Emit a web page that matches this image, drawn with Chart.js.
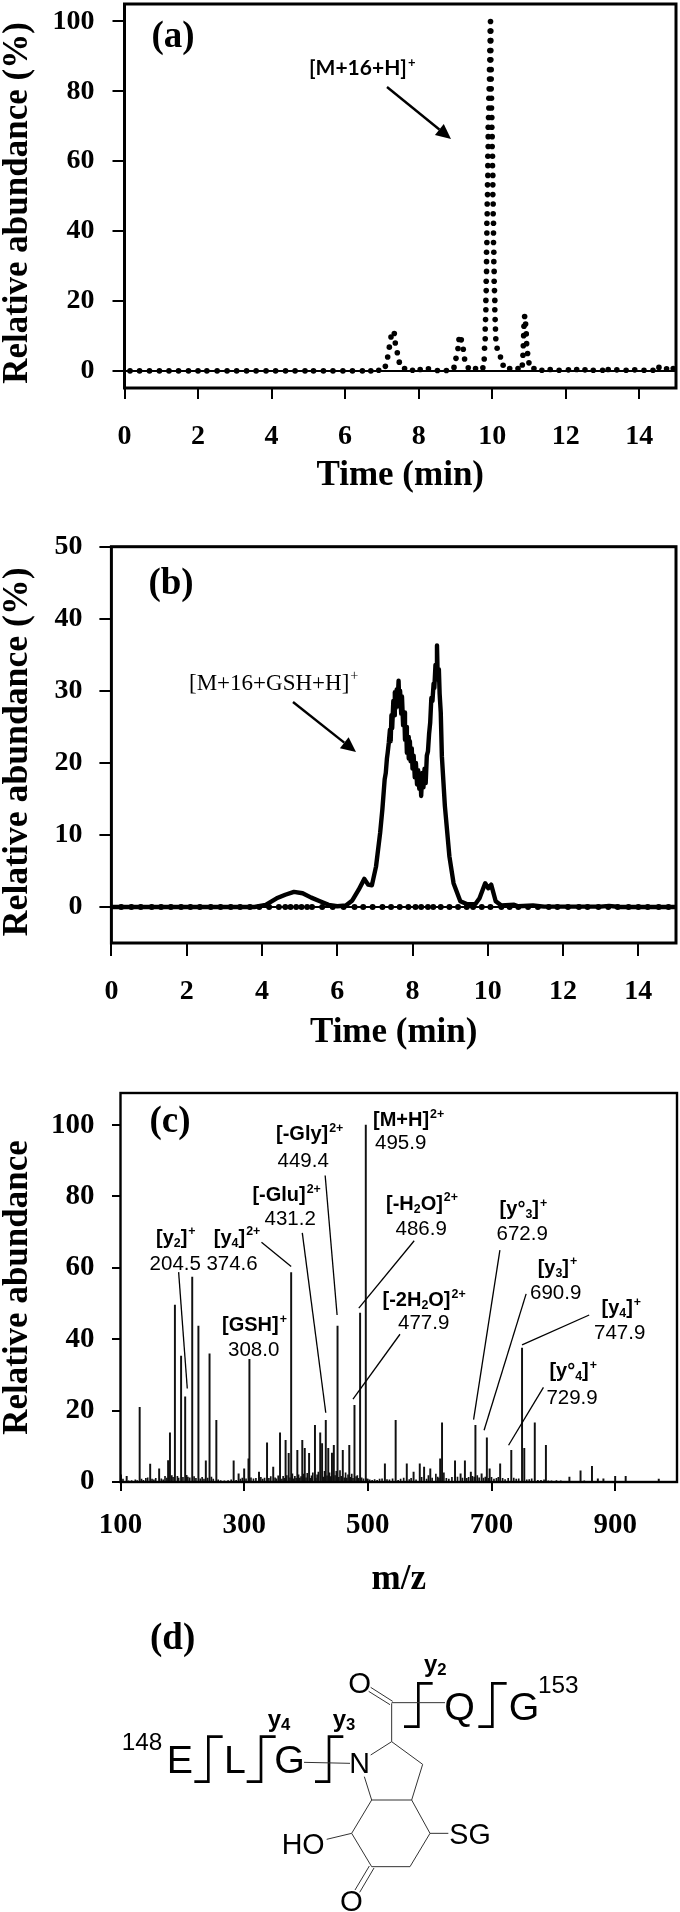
<!DOCTYPE html>
<html><head><meta charset="utf-8">
<script src="https://cdn.jsdelivr.net/npm/chart.js@4"></script>
<style>
html,body{margin:0;padding:0;background:#fff;overflow:hidden}
#page{position:relative;width:680px;height:1912px;background:#fff;overflow:hidden}
canvas{position:absolute;left:0}
svg{position:absolute;left:100px;top:1600px}
</style></head><body>
<div id="page">
<canvas id="ca" width="680" height="520" style="top:0;width:680px;height:520px"></canvas>
<canvas id="cb" width="680" height="530" style="top:530px;width:680px;height:530px"></canvas>
<canvas id="cc" width="680" height="530" style="top:1075px;width:680px;height:530px"></canvas>
<svg width="520" height="312" viewBox="0 0 1560 936" font-family="'Liberation Sans',Arial,sans-serif" fill="#000">
 <text x="150" y="148" font-family="'Liberation Serif',serif" font-weight="bold" font-size="111">(d)</text>
 <g fill="none" stroke="#000" stroke-width="8">
  <polyline points="368,410 325,410 325,545 283,545"/><polyline points="527,410 483,410 483,545 440,545"/>
  <polyline points="730,410 687,410 687,545 645,545"/><polyline points="998,250 955,250 955,380 912,380"/>
  <polyline points="1220,250 1177,250 1177,380 1135,380"/>
 </g>
 <g fill="none" stroke="#333" stroke-width="3">
  <line x1="612" y1="487" x2="750" y2="490"/><line x1="812" y1="465" x2="875" y2="425"/>
  <line x1="875" y1="425" x2="968" y2="493"/><line x1="968" y1="493" x2="935" y2="600"/>
  <line x1="935" y1="600" x2="815" y2="600"/><line x1="815" y1="600" x2="793" y2="530"/>
  <line x1="875" y1="425" x2="875" y2="310"/><line x1="875" y1="308" x2="1035" y2="308"/>
  <line x1="878" y1="304" x2="812" y2="262"/><line x1="870" y1="314" x2="806" y2="274"/>
  <line x1="815" y1="600" x2="755" y2="700"/><line x1="935" y1="600" x2="990" y2="700"/>
  <line x1="990" y1="700" x2="1045" y2="700"/><line x1="755" y1="700" x2="680" y2="718"/>
  <line x1="755" y1="700" x2="815" y2="800"/><line x1="815" y1="800" x2="930" y2="800"/>
  <line x1="930" y1="800" x2="990" y2="700"/><line x1="822" y1="804" x2="779" y2="877"/>
  <line x1="808" y1="798" x2="765" y2="870"/>
 </g>
 <text x="65" y="450" font-size="73">148</text><text x="200" y="520" font-size="118">E</text>
 <text x="372" y="520" font-size="118">L</text><text x="523" y="520" font-size="118">G</text>
 <text x="748" y="520" font-size="86">N</text><text x="1033" y="360" font-size="118">Q</text>
 <text x="1226" y="360" font-size="118">G</text><text x="1314" y="280" font-size="73">153</text>
 <text x="745" y="278" font-size="88">O</text><text x="720" y="934" font-size="88">O</text>
 <text x="545" y="762" font-size="86">HO</text><text x="1048" y="732" font-size="86">SG</text>
 <text x="972" y="215" font-size="72" font-weight="bold">y<tspan font-size="50" dy="10">2</tspan></text>
 <text x="503" y="380" font-size="72" font-weight="bold">y<tspan font-size="50" dy="10">4</tspan></text>
 <text x="698" y="380" font-size="72" font-weight="bold">y<tspan font-size="50" dy="10">3</tspan></text>
</svg>
</div>
<script>
// ---------- Panel (a): [M+16+H]+ chromatogram (dots) ----------
const timeA = [0.15,0.41,0.68,0.95,1.21,1.47,1.74,2.0,2.24,2.52,2.79,3.05,3.32,3.58,3.85,4.11,4.38,4.64,4.91,5.14,5.41,5.67,5.94,6.2,6.47,6.7,6.915,
 7.095,7.158,7.203,7.248,7.338,7.365,7.42,7.474,7.618,7.834,8.042,8.267,8.511,8.755,8.962,9.016,9.07,9.097,9.16,9.214,9.25,9.35,9.548,9.747,
 9.784,9.793,9.811,9.811,9.82,9.829,9.829,9.838,9.838,9.847,9.847,9.847,9.856,9.856,9.856,9.865,9.865,9.874,9.874,9.883,9.883,9.883,9.892,9.892,9.892,9.901,9.91,9.91,9.919,9.928,9.928,9.937,9.937,9.946,9.946,9.955,
 9.964,9.964,9.964,9.964,9.973,9.973,9.973,9.982,9.982,9.991,9.991,10.0,10.0,10.009,10.009,10.018,10.018,10.018,10.027,10.027,10.036,10.036,10.036,10.045,10.045,10.054,10.054,10.063,10.072,10.072,10.081,10.09,10.099,10.135,10.226,10.298,
 10.477,10.703,10.82,10.838,10.847,10.856,10.865,10.883,10.91,10.928,10.937,10.964,11.0,11.136,
 11.352,11.578,11.821,12.074,12.299,12.525,12.75,13.003,13.156,13.391,13.643,13.878,14.13,14.374,14.536,14.744,14.924];
const abundA = [-0.1,-0.1,-0.1,-0.1,-0.1,-0.1,-0.1,-0.1,-0.1,-0.1,-0.1,-0.1,-0.1,-0.1,-0.1,-0.1,-0.1,-0.1,-0.1,-0.1,-0.1,-0.1,-0.1,-0.1,-0.1,-0.1,0.1,
 1.2,3.9,6.7,9.6,10.6,7.9,5.1,2.4,0.6,0.1,0.3,0.5,0,0,0.9,3.5,6.3,8.9,8.8,6.1,3.3,0.8,0.6,0.8,
 3.3,6.4,9.1,11.9,14.6,17.4,20.1,22.9,25.6,28.4,31.2,33.9,36.7,39.4,42.2,44.9,47.7,50.4,53.2,55.9,58.7,61.4,64.2,67,69.7,72.5,75.2,78,80.7,83.5,86.2,89,91.7,94.5,97.25,100,
 97.25,94.5,91.7,89,86.2,83.5,80.7,78,75.2,72.5,69.7,67,64.2,61.4,58.7,55.9,53.2,50.4,47.7,44.9,42.2,39.4,36.7,33.9,31.2,28.4,25.6,22.9,20.1,17.4,14.6,11.9,9.1,6.4,3.9,1.5,
 0.6,0.6,1.6,4.4,7.1,10,12.7,15.5,13.3,10.5,7.7,4.9,2.2,0.6,
 0.1,0.3,0.1,0.2,0.3,0.2,0.1,0.1,0.3,0.2,0.1,0.2,0.1,0.1,0.9,0.5,0.6];
const xTicksTime = [0,2,4,6,8,10,12,14];
const yTicksA = [0,20,40,60,80,100];

// ---------- Panel (b): [M+16+GSH+H]+ chromatogram (line) and the (a)-style dots ----------
const timeB = [0,1,2,3,3.8,4.1,4.39,4.62,4.85,5.08,5.31,5.54,5.77,6.0,6.23,6.4,6.57,6.72,6.82,6.92,7.03,7.14,7.2,7.26,7.29,7.32,7.34,7.37,
 7.40,7.42,7.44,7.46,7.49,7.51,7.53,7.55,7.58,7.6,7.63,7.65,7.67,7.7,7.72,7.75,7.78,7.8,7.83,7.85,7.88,7.9,7.93,7.95,7.98,8.0,8.03,8.06,8.09,8.12,8.15,8.18,8.21,8.23,8.26,8.29,8.32,8.35,8.38,8.41,8.44,8.47,8.5,8.53,8.56,8.58,8.61,8.63,8.65,8.67,8.7,8.72,8.75,
 8.78,8.86,8.98,9.09,9.27,9.44,9.67,9.78,9.93,10.01,10.09,10.21,10.36,10.7,10.81,11.2,11.5,13.0,13.22,13.5,15];
const abundB = [0,0,0,0,0,0.3,1.2,1.7,2.1,1.9,1.3,0.8,0.3,0.1,0.2,0.9,2.4,3.9,3.1,3,5.6,10.3,13.6,17.7,18.6,20.6,21.4,22.8,
 24.6,23.0,26.6,24.8,28.6,26.6,29.8,27.6,30.2,28,31.4,27.8,30,26.8,29.2,25.2,27,23.2,25,21.4,23.6,20.6,23,20.2,22,19.2,21,18,20,17,19,16.4,18.4,15.4,18.6,16.6,19.2,17.2,21,21.6,24,25.6,29,28.6,31,30.4,33.6,32,36.3,31.6,33,29.6,27,
 20.9,14,7,3.3,0.8,0.4,0.4,1.2,3.3,2.6,3.1,0.8,0.2,0.3,0.1,0.2,0.05,0.05,0.15,0,0];
const timeBDots = [0.26,0.53,0.78,1.07,1.32,1.58,1.85,2.1,2.35,2.64,2.9,3.17,3.42,3.68,3.93,4.19,4.45,4.62,4.76,4.91,5.05,5.2,5.33,5.6,5.88,6.17,6.46,6.69,6.94,7.2,7.43,7.66,7.89,8.08,8.23,8.41,8.55,8.75,8.98,9.21,9.44,9.61,9.84,10.07,10.36,10.58,10.81,11.07,11.33,11.62,11.85,12.13,12.42,12.65,12.94,13.2,13.45,13.74,14,14.25,14.54,14.8];
const abundBDots = [0,0,0,0,0,0,0,0,0,0,0,0,0,0,0,0,0,0,0,0,0,0,0,0,0,0,0,0,0,0,0,0,0,0,0,0,0,0,0,0,0,0,0,0,0,0,0,0,0,0,0,0,0,0,0,0,0,0,0,0,0,0];
const yTicksB = [0,10,20,30,40,50];

// ---------- Panel (c): MS/MS spectrum ----------
const mzPeaks = [110,131,148,162.5,177,180,188,198,204.6,216,226,238,244,255,283,291,300,307,308.5,324,337,347,358,367,372,376,386,394,398,405,414.5,423,426,432,436,442,445,451,459.5,470,478.4,487.5,496.7,527.6,545,563,574,584,591,601,617,620,641,650,657,666.6,674,684,692.5,697,714,732,749.4,753,770,788,826,844,862.5,872,881,900,917,970.5];
const abundPeaks = [1.6,20.9,5,3.7,6,13.8,49.6,35.3,23.9,57.4,43.7,5.9,35.9,17.3,5.9,2.3,3.7,6.5,34.4,2.8,11,4.2,13.8,11.7,8,58.7,8.9,11.7,9.4,8,15.9,13.8,10.8,17.3,9.4,8.1,10.3,43.7,8.9,10.3,21.5,47.3,100,5.1,17.3,5.1,2.8,5.1,4.2,3.7,6.5,16.6,5.9,2.3,5.9,2.8,15.9,2.3,12.4,3.7,5.1,8.9,37.5,9.4,16.6,10.3,1.4,3.1,4.4,0.9,0.9,1.6,1.6,0.8];
const mzGrass = [101,104,113,118,124,127,134,137,141,144,151,154,157,166,169,172,175,183,185,192,194,201,207,209,212,219,222,229,232,235,241,247,250,258,262,268,274,279,287,294,297,303,311,315,319,327,330,333,340,343,350,352,355,361,363,365,369,374,378,380,382,384,388,390,392,396,400,402,407,409,411,416,418,420,428,430,434,438,440,447,449,453,455,457,462,464,466,468,472,474,476,481,483,485,490,493,498,500,503,507,511,515,519,523,531,535,540,549,553,558,567,570,578,587,595,598,604,610,613,615,623,627,631,636,645,653,660,663,669,672,677,680,687,690,695,700,704,708,711,718,722,727,736,740,744,757,761,765,775,780,785,792,797,805,812,850];
const abundGrass = [2,0.8,0.3,0.4,0.6,0.4,0.8,0.5,1,1.2,0.8,0.6,1,0.9,0.6,1.6,1.1,1.8,1.3,1.6,1.1,1.3,1.9,1.4,1.2,1.5,1,0.9,1.3,0.8,1.1,1.4,0.8,0.6,0.4,0.3,0.4,0.6,0.5,0.8,1.1,0.9,1.2,0.9,1,1.3,0.8,1.1,1,1.5,1.2,0.9,1.7,0.8,1.6,1,1.8,1.2,2.3,0.9,1.6,1,2,1.1,1.5,2.2,1.2,2.4,1,1.7,2.6,1.1,2,2.8,1.4,3,1.7,2.6,1.5,1.8,3,1.3,3.2,1.6,1.2,2.6,1.1,2,1.3,2.2,1,1.5,1.8,1,1.2,0.9,0.9,0.8,0.6,0.5,0.7,0.5,0.8,0.9,0.7,0.6,0.9,0.5,0.8,1.1,0.7,1,0.6,1.3,0.8,1.8,1.1,2.2,1.4,1.1,2.6,1,0.8,1.3,1.4,1.1,1,1.3,1.6,1.4,1.8,1.2,1.1,1.4,1,1.3,0.8,1,1.3,1,0.7,1,1.1,0.8,0.9,0.6,0.7,0.9,0.5,0.5,0.6,0.3,0.3,0.4,0.3,0.3];
const xTicksMz = [100,300,500,700,900];
const yTicksC = [0,20,40,60,80,100];

const SERIF = "'Liberation Serif','Times New Roman',serif";
const SANS = "'Liberation Sans',Arial,sans-serif";

// fragment labels of panel (c): name, then value text
const fragLabels = [
 {seg:['[M+H]',{sup:'2+'}], nx:373, ny:1119, val:'495.9', vx:375, vy:1142},
 {seg:['[-Gly]',{sup:'2+'}], nx:276, ny:1133, val:'449.4', vx:277.5, vy:1160},
 {seg:['[-Glu]',{sup:'2+'}], nx:252.4, ny:1194, val:'431.2', vx:264.5, vy:1217.7},
 {seg:['[y',{sub:'2'},']',{sup:'+'}], nx:156, ny:1236.7, val:'204.5', vx:149.6, vy:1262.7},
 {seg:['[y',{sub:'4'},']',{sup:'2+'}], nx:213.8, ny:1236.7, val:'374.6', vx:206.4, vy:1262.7},
 {seg:['[GSH]',{sup:'+'}], nx:222, ny:1324, val:'308.0', vx:228, vy:1349},
 {seg:['[-H',{sub:'2'},'O]',{sup:'2+'}], nx:386, ny:1202.7, val:'486.9', vx:395.5, vy:1227.7},
 {seg:['[-2H',{sub:'2'},'O]',{sup:'2+'}], nx:382.5, ny:1299, val:'477.9', vx:398, vy:1321.7},
 {seg:['[y°',{sub:'3'},']',{sup:'+'}], nx:499.6, ny:1208, val:'672.9', vx:496.5, vy:1233},
 {seg:['[y',{sub:'3'},']',{sup:'+'}], nx:537.7, ny:1266.7, val:'690.9', vx:530, vy:1291.7},
 {seg:['[y',{sub:'4'},']',{sup:'+'}], nx:601.5, ny:1307, val:'747.9', vx:594, vy:1332},
 {seg:['[y°',{sub:'4'},']',{sup:'+'}], nx:549.4, ny:1370, val:'729.9', vx:546.4, vy:1396.7}
];
// leader lines of panel (c), in axis units
const leaders = [[194,58.8,208,26.2],[328,67.2,376,60.4],[394,69.8,432,19.4],[431,85.9,450.3,46.8],[575,67.6,485.4,48.7],[552,41.4,476,23.2],[713.6,65,671,17.5],[756,52.7,688,14.5],[858,46.8,749.4,38.4],[784,26.5,727.6,10.3]];

function rich(ctx,x,yc,segs,family,weight,F){
  const base=yc+0.35*F; let cx=x; ctx.textAlign='left'; ctx.textBaseline='alphabetic';
  for(const s of segs){
    if(typeof s==='string'){ctx.font=`${weight} ${F}px ${family}`;ctx.fillText(s,cx,base);cx+=ctx.measureText(s).width;}
    else if(s.sup){const f=F*0.62;ctx.font=`${weight} ${f}px ${family}`;ctx.fillText(s.sup,cx+1,base-F*0.42);cx+=ctx.measureText(s.sup).width+1;}
    else{const f=F*0.62;ctx.font=`${weight} ${f}px ${family}`;ctx.fillText(s.sub,cx,base+F*0.16);cx+=ctx.measureText(s.sub).width;}
  }
}
function arrow(ctx,x1,y1,x2,y2){
  ctx.strokeStyle='#000';ctx.fillStyle='#000';ctx.lineWidth=2.4;
  const a=Math.atan2(y2-y1,x2-x1),L=15,W=7;
  ctx.beginPath();ctx.moveTo(x1,y1);ctx.lineTo(x2-L*Math.cos(a),y2-L*Math.sin(a));ctx.stroke();
  ctx.beginPath();ctx.moveTo(x2,y2);
  ctx.lineTo(x2-L*Math.cos(a)-W*Math.sin(a),y2-L*Math.sin(a)+W*Math.cos(a));
  ctx.lineTo(x2-L*Math.cos(a)+W*Math.sin(a),y2-L*Math.sin(a)-W*Math.cos(a));
  ctx.closePath();ctx.fill();
}
const boxPlugin={id:'box',afterDatasetsDraw(ch){
  const a=ch.chartArea,c=ch.ctx;c.save();c.strokeStyle='#000';c.lineWidth=ch.canvas.id==='cc'?2.4:3;
  c.strokeRect(a.left,a.top,a.right-a.left,a.bottom-a.top);c.restore();}};
const notes={
 ca(c){c.fillStyle='#000';c.font=`bold 37px ${SERIF}`;c.textAlign='center';c.textBaseline='middle';c.fillText('(a)',173,37);
   rich(c,309,68,['[M+16+H]',{sup:'+'}],"Lato,'Open Sans',sans-serif",'bold',21);arrow(c,387,87,451,139);},
 cb(c){const o=530;c.fillStyle='#000';c.font=`bold 37px ${SERIF}`;c.textAlign='center';c.textBaseline='middle';c.fillText('(b)',171,584-o);
   rich(c,189,682-o,['[M+16+GSH+H]',{sup:'+'}],SERIF,'normal',23);arrow(c,293,702-o,356,752-o);},
 cc(c,ch){const o=1075;c.fillStyle='#000';c.font=`bold 37px ${SERIF}`;c.textAlign='center';c.textBaseline='middle';c.fillText('(c)',170,1122-o);
   const X=ch.scales.x,Y=ch.scales.y;c.strokeStyle='#000';c.lineWidth=1.3;
   for(const [m1,v1,m2,v2] of leaders){c.beginPath();c.moveTo(X.getPixelForValue(m1),Y.getPixelForValue(v1));c.lineTo(X.getPixelForValue(m2),Y.getPixelForValue(v2));c.stroke();}
   c.fillStyle='#000';
   for(const l of fragLabels){rich(c,l.nx,l.ny-o,l.seg,SANS,'bold',20);rich(c,l.vx,l.vy-o,[l.val],SANS,'normal',20.5);}
 }};
const notePlugin={id:'notes',afterDraw(ch){const c=ch.ctx;c.save();notes[ch.canvas.id](c,ch);c.restore();}};

function shiftTitle(s,dy){
  if(s.$sh)return;s.$sh=true;const d=s.drawTitle;
  s.drawTitle=function(){const c=this.ctx;c.save();c.translate(0,dy);d.apply(this,arguments);c.restore();};
}
const noPad=s=>{s.paddingTop=0;s.paddingBottom=0;s.paddingLeft=0;s.paddingRight=0;};
function axes(p){return {
  x:{type:'linear',min:p.xmin,max:p.xmax,offset:false,
     afterBuildTicks:s=>{s.ticks=p.xticks.map(v=>({value:v}));},
     afterFit:s=>{s.height=p.H-p.bottom;noPad(s);},
     border:{display:false},
     grid:{offset:false,drawOnChartArea:false,drawTicks:true,tickLength:p.xtick,tickColor:'#000',tickWidth:2,color:'#000',lineWidth:2},
     ticks:{color:'#000',font:{family:SERIF,weight:'bold',size:p.tf},padding:p.xpad,autoSkip:false,maxRotation:0,minRotation:0},
     title:{display:true,text:p.xtitle,color:'#000',font:{family:SERIF,weight:'bold',size:35,lineHeight:1},padding:{top:0,bottom:p.xtb}}},
  y:{type:'linear',min:p.ymin,max:p.ymax,
     afterBuildTicks:s=>{s.ticks=p.yticks.map(v=>({value:v}));},
     afterFit:s=>{s.width=p.left;noPad(s);},
     afterUpdate:s=>shiftTitle(s,p.ydy),
     border:{display:false},
     grid:{drawOnChartArea:true,drawTicks:true,tickLength:p.ytick,tickColor:'#000',tickWidth:2,lineWidth:2,
           color:c=>c.tick&&c.tick.value===0?'#000':'rgba(0,0,0,0)'},
     ticks:{color:'#000',font:{family:SERIF,weight:'bold',size:p.tf},padding:p.ypad,autoSkip:false,maxRotation:0,minRotation:0},
     title:{display:true,text:p.ytitle,color:'#000',font:{family:SERIF,weight:'bold',size:p.ytf,lineHeight:1},padding:{top:0,bottom:-3.5}}}
};}
const base=p=>({responsive:false,animation:false,devicePixelRatio:1,
  layout:{padding:{top:p.top,right:680-p.right,left:0,bottom:0}},
  plugins:{legend:{display:false},tooltip:{enabled:false}},scales:axes(p)});

const pts=(xs,ys)=>xs.map((x,i)=>({x,y:ys[i]}));

new Chart(document.getElementById('ca'),{type:'scatter',plugins:[boxPlugin,notePlugin],
 data:{datasets:[{label:'[M+16+H]+',data:pts(timeA,abundA),showLine:false,pointRadius:2.8,pointBackgroundColor:'#000',pointBorderWidth:0}]},
 options:base({H:520,top:2,right:678,bottom:388,left:124.5,xmin:0,xmax:15,ymin:-5,ymax:105,xticks:xTicksTime,yticks:yTicksA,xtick:11,ytick:12,tf:28,xpad:21,ypad:18,xtitle:'Time (min)',ytitle:'Relative abundance (%)',xtb:27,ydy:7,ytf:35})});

new Chart(document.getElementById('cb'),{type:'scatter',plugins:[boxPlugin,notePlugin],
 data:{datasets:[
  {label:'[M+16+GSH+H]+',data:pts(timeB,abundB),showLine:true,borderColor:'#000',borderWidth:4.4,borderJoinStyle:'round',tension:0,pointRadius:0},
  {label:'dots',data:pts(timeBDots,abundBDots),showLine:false,pointRadius:3,pointBackgroundColor:'#000',pointBorderWidth:0}]},
 options:base({H:530,top:16.7,right:678,bottom:413,left:111.4,xmin:0,xmax:15,ymin:-5,ymax:50,xticks:xTicksTime,yticks:yTicksB,xtick:13,ytick:12,tf:28,xpad:19,ypad:17,xtitle:'Time (min)',ytitle:'Relative abundance (%)',xtb:9.5,ydy:7,ytf:35.7})});

new Chart(document.getElementById('cc'),{type:'bar',plugins:[boxPlugin,notePlugin],
 data:{datasets:[
  {label:'grass',data:pts(mzGrass,abundGrass),backgroundColor:'#111',barThickness:1,grouped:false},
  {label:'peaks',data:pts(mzPeaks,abundPeaks),backgroundColor:'#111',barThickness:1.3,grouped:false}]},
 options:base({H:530,top:18,right:677,bottom:407,left:120.5,xmin:100,xmax:1000,ymin:0,ymax:109,xticks:xTicksMz,yticks:yTicksC,xtick:9,ytick:8.5,tf:29,xpad:17,ypad:17.5,xtitle:'m/z',ytitle:'Relative abundance',xtb:7.5,ydy:0,ytf:35})});
</script>
</body></html>
